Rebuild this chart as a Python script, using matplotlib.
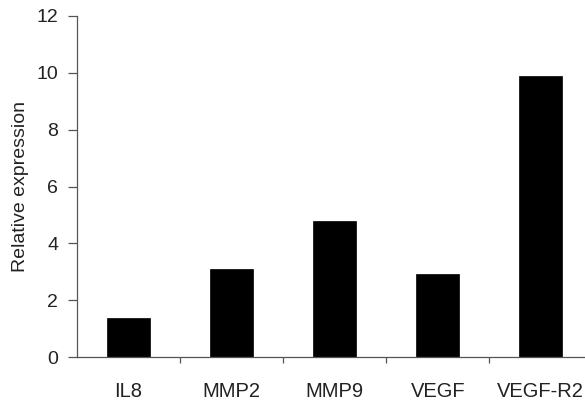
import numpy as np
import matplotlib.pyplot as plt

# values
genes = ['IL8', 'MMP2', 'MMP9', 'VEGF', 'VEGF-R2']
expression = [1.38, 3.10, 4.80, 2.93, 9.90]
y_ticks = [0, 2, 4, 6, 8, 10, 12]

plt.rcParams['font.family'] = ['Liberation Sans', 'DejaVu Sans']

fig = plt.figure(figsize=(5.85, 4.01), dpi=100)
# axes runs a little past the right edge, like the cropped original
ax = fig.add_axes([0.1316, 0.1097, 0.881, 0.8504])

x = np.arange(len(genes))
ax.bar(x, expression, width=0.42, color='black', edgecolor='black', linewidth=0.5)

ax.set_xlim(-0.5, len(genes) - 0.5)
ax.set_ylim(0, 12)

ax.spines['top'].set_visible(False)
ax.spines['right'].set_visible(False)
for s in ['left', 'bottom']:
    ax.spines[s].set_color('#555555')
    ax.spines[s].set_linewidth(0.9)

ax.set_yticks(y_ticks)
ax.set_yticklabels([str(v) for v in y_ticks], fontsize=14, color='#222222')
ax.tick_params(axis='y', direction='out', length=6.5, width=0.9, color='#555555', pad=7)

# tick marks between categories, labels at category centres
ax.set_xticks(x[:-1] + 0.5)
ax.set_xticklabels([])
ax.tick_params(axis='x', which='major', direction='out', length=4.5, width=0.9, color='#555555')
ax.set_xticks(x, minor=True)
ax.set_xticklabels(genes, minor=True, fontsize=14.5, color='#222222')
ax.tick_params(axis='x', which='minor', length=0, pad=18)

ax.set_ylabel('Relative expression', fontsize=14, color='#222222', labelpad=5.5)

fig.savefig('out.png', dpi=100)
